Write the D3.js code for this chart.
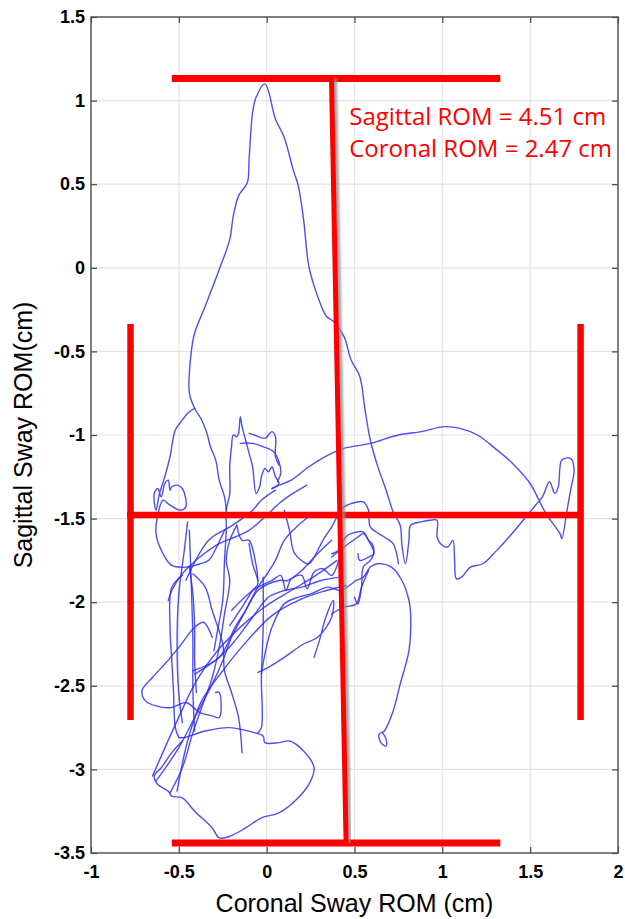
<!DOCTYPE html>
<html>
<head>
<meta charset="utf-8">
<script src="https://cdn.jsdelivr.net/npm/d3@7"></script>
<style>
  body { margin: 0; background: #fff; }
  svg { display: block; }
</style>
</head>
<body>
<svg id="chart" width="625" height="919"></svg>
<script>
// Axes
const xTicks = [-1, -0.5, 0, 0.5, 1, 1.5, 2];
const yTicks = [1.5, 1, 0.5, 0, -0.5, -1, -1.5, -2, -2.5, -3, -3.5];
const xLabel = "Coronal Sway ROM (cm)";
const yLabel = "Sagittal Sway ROM(cm)";
const romText = ["Sagittal ROM = 4.51 cm", "Coronal ROM = 2.47 cm"];

// Centre of pressure trace in cm (segments of one path)
const peakLoop = [[-0.23,-1.45],[-0.24,-1.37],[-0.27,-1.27],[-0.29,-1.15],[-0.32,-1.07],[-0.34,-0.99],[-0.37,-0.91],[-0.41,-0.84],[-0.44,-0.75],[-0.43,-0.51],[-0.41,-0.39],[-0.35,-0.23],[-0.27,-0.01],[-0.21,0.17],[-0.19,0.31],[-0.16,0.43],[-0.11,0.51],[-0.10,0.65],[-0.08,0.93],[-0.06,1.02],[-0.01,1.10],[0.05,0.89],[0.10,0.78],[0.15,0.59],[0.18,0.49],[0.21,0.29],[0.24,0.01],[0.29,-0.17],[0.34,-0.29],[0.38,-0.32],[0.44,-0.41],[0.48,-0.55],[0.53,-0.65],[0.56,-0.85],[0.59,-1.03],[0.63,-1.18],[0.68,-1.33],[0.72,-1.46],[0.76,-1.54],[0.77,-1.66],[0.79,-1.77],[0.81,-1.63],[0.82,-1.54],[0.88,-1.52],[0.93,-1.51],[0.97,-1.51],[0.97,-1.61],[0.99,-1.65],[1.03,-1.67],[1.06,-1.63],[1.07,-1.75],[1.08,-1.86],[1.11,-1.85],[1.16,-1.79],[1.23,-1.77],[1.31,-1.69],[1.38,-1.61],[1.46,-1.51],[1.53,-1.42],[1.57,-1.37],[1.61,-1.28],[1.64,-1.35],[1.66,-1.31],[1.67,-1.19],[1.68,-1.15],[1.73,-1.14],[1.75,-1.21],[1.73,-1.33],[1.71,-1.45],[1.68,-1.62],[1.67,-1.59],[1.63,-1.53],[1.59,-1.47],[1.55,-1.39],[1.50,-1.29],[1.40,-1.17],[1.30,-1.08],[1.20,-1.00],[1.10,-0.96],[1.01,-0.95],[0.88,-0.98],[0.75,-1.00],[0.59,-1.05],[0.44,-1.08],[0.35,-1.12],[0.24,-1.19],[0.14,-1.27],[0.07,-1.30],[0.03,-1.32]];
const upperTangle = [[0.03,-1.32],[0.07,-1.29],[0.05,-1.25],[0.03,-1.19],[0.01,-1.22],[-0.01,-1.20],[-0.03,-1.25],[-0.04,-1.31],[-0.06,-1.35],[-0.08,-1.19],[-0.10,-1.11],[-0.12,-1.03],[-0.14,-0.95],[-0.15,-0.89],[-0.16,-0.99],[-0.17,-1.01],[-0.19,-1.00],[-0.20,-1.07],[-0.21,-1.19],[-0.21,-1.35],[-0.23,-1.45],[-0.23,-1.57],[-0.24,-1.75],[-0.25,-1.99],[-0.28,-2.17],[-0.30,-2.29]];
const upperArc = [[-0.15,-1.05],[-0.08,-1.05],[-0.02,-1.07],[0.04,-1.10],[0.07,-1.16],[0.08,-1.23],[0.06,-1.28]];
const smallPeak = [[-0.10,-0.99],[-0.07,-1.00],[-0.01,-1.02],[0.03,-0.98],[0.05,-1.01],[0.05,-1.13],[0.07,-1.18]];
const leftWiggles = [[-0.41,-0.84],[-0.45,-0.87],[-0.48,-0.91],[-0.52,-0.97],[-0.55,-1.13],[-0.58,-1.25],[-0.61,-1.35],[-0.63,-1.45],[-0.64,-1.35],[-0.62,-1.32],[-0.60,-1.37],[-0.58,-1.29],[-0.56,-1.27],[-0.55,-1.33],[-0.54,-1.31],[-0.51,-1.30],[-0.48,-1.32],[-0.46,-1.43],[-0.49,-1.45],[-0.55,-1.42],[-0.59,-1.39],[-0.62,-1.48],[-0.63,-1.59],[-0.59,-1.71],[-0.54,-1.78],[-0.46,-1.79],[-0.38,-1.77],[-0.33,-1.75],[-0.28,-1.66],[-0.24,-1.57]];
const strandA = [[-0.63,-3.07],[-0.50,-2.87],[-0.41,-2.69],[-0.31,-2.49],[-0.25,-2.35],[-0.20,-2.21],[-0.12,-2.05],[-0.05,-1.91],[-0.01,-1.85],[0.05,-1.75],[0.10,-1.63],[0.18,-1.54],[0.25,-1.48]];
const strandB = [[-0.55,-3.14],[-0.48,-2.99],[-0.42,-2.78],[-0.37,-2.63],[-0.31,-2.45],[-0.27,-2.27],[-0.24,-2.07],[-0.21,-1.87],[-0.23,-1.75],[-0.21,-1.63],[-0.17,-1.54]];
const strandC = [[-0.48,-1.84],[-0.54,-1.91],[-0.55,-2.15],[-0.54,-2.35],[-0.53,-2.54],[-0.52,-2.75],[-0.50,-2.81]];
const strandD = [[-0.42,-2.41],[-0.27,-2.33],[-0.18,-2.15],[-0.12,-2.05],[-0.05,-1.93],[0.07,-1.87],[0.12,-1.87],[0.20,-1.81],[0.28,-1.72],[0.37,-1.63]];
const strandE = [[-0.03,-2.43],[-0.01,-2.31],[0.03,-2.15],[0.10,-2.01],[0.18,-1.97],[0.25,-1.95],[0.35,-1.91],[0.42,-1.93],[0.51,-1.87],[0.55,-1.85],[0.59,-1.79],[0.63,-1.77],[0.71,-1.79],[0.77,-1.87],[0.81,-1.99],[0.82,-2.09],[0.81,-2.29],[0.76,-2.49],[0.72,-2.65],[0.67,-2.77],[0.64,-2.79],[0.65,-2.84],[0.68,-2.86],[0.68,-2.82],[0.66,-2.78]];
const strandF = [[-0.05,-2.42],[0.01,-2.39],[0.10,-2.33],[0.21,-2.25],[0.29,-2.21],[0.37,-2.09],[0.38,-1.99],[0.34,-2.08],[0.30,-2.23],[0.27,-2.33]];
const strandG = [[-0.02,-1.85],[-0.02,-2.15],[-0.03,-2.45],[-0.03,-2.75],[-0.05,-2.78]];
const strandH = [[-0.14,-2.90],[-0.16,-2.69],[-0.20,-2.54],[-0.24,-2.41],[-0.25,-2.25],[-0.31,-2.05],[-0.35,-1.91],[-0.42,-1.83]];
const strandI = [[-0.44,-1.79],[-0.42,-1.95],[-0.41,-2.15],[-0.41,-2.35],[-0.40,-2.54]];
const strandJ = [[-0.56,-1.99],[-0.54,-1.93],[-0.48,-1.83],[-0.38,-1.73],[-0.27,-1.65],[-0.18,-1.61],[-0.10,-1.57],[-0.01,-1.49],[0.07,-1.41],[0.12,-1.37],[0.18,-1.33],[0.23,-1.30]];
const strandK = [[-0.46,-1.87],[-0.33,-1.63],[-0.21,-1.55],[-0.14,-1.50],[-0.08,-1.45],[-0.03,-1.39],[0.05,-1.33]];
const strandL = [[-0.65,-3.04],[-0.51,-2.71],[-0.40,-2.47],[-0.28,-2.29],[-0.14,-2.14],[0.00,-2.02],[0.14,-1.93],[0.28,-1.84],[0.40,-1.75]];
const strandM = [[-0.51,-3.13],[-0.45,-2.83],[-0.37,-2.59],[-0.25,-2.41],[-0.11,-2.23],[0.03,-2.08],[0.20,-1.98],[0.34,-1.93],[0.45,-1.90]];
const strandN = [[-0.20,-2.05],[-0.08,-1.93],[0.03,-1.87],[0.08,-1.84],[0.11,-1.93],[0.14,-1.86],[0.20,-1.84],[0.23,-1.92],[0.27,-1.82],[0.32,-1.80],[0.37,-1.84],[0.41,-1.75]];
const strandO = [[-0.17,-1.54],[-0.14,-1.63],[-0.10,-1.63],[-0.06,-1.78],[-0.05,-1.87]];
const strandP = [[-0.45,-1.52],[-0.47,-1.70],[-0.50,-1.95],[-0.51,-2.25],[-0.50,-2.55],[-0.48,-2.72]];
const strandQ = [[-0.41,-2.43],[-0.27,-2.33],[-0.18,-2.23],[-0.08,-2.09],[0.01,-1.97],[0.10,-1.93],[0.20,-1.91],[0.31,-1.87],[0.42,-1.85]];
const strandR = [[-0.44,-1.57],[-0.43,-1.87],[-0.42,-2.23],[-0.42,-2.53],[-0.41,-2.77]];
const strandS = [[-0.10,-1.65],[-0.08,-1.77],[-0.05,-1.89],[-0.08,-1.93],[-0.14,-2.03],[-0.21,-2.14]];
const leftTriangle = [[-0.31,-2.21],[-0.36,-2.12],[-0.41,-2.15],[-0.50,-2.27],[-0.58,-2.37],[-0.65,-2.45],[-0.71,-2.53],[-0.69,-2.59],[-0.63,-2.62],[-0.54,-2.63],[-0.46,-2.60],[-0.38,-2.66],[-0.31,-2.68],[-0.27,-2.69],[-0.27,-2.54],[-0.29,-2.54]];
const bottomLoop = [[-0.50,-2.81],[-0.47,-2.81],[-0.35,-2.77],[-0.21,-2.75],[-0.07,-2.78],[-0.02,-2.80],[-0.01,-2.84],[0.07,-2.84],[0.13,-2.83],[0.21,-2.89],[0.27,-2.99],[0.25,-3.07],[0.18,-3.17],[0.07,-3.26],[-0.03,-3.29],[-0.12,-3.35],[-0.21,-3.40],[-0.27,-3.41],[-0.31,-3.35],[-0.41,-3.25],[-0.48,-3.17],[-0.54,-3.16],[-0.56,-3.13],[-0.62,-3.09],[-0.64,-3.04],[-0.60,-2.99],[-0.54,-2.90],[-0.48,-2.83]];
const midRight = [[0.37,-1.73],[0.44,-1.67],[0.52,-1.61],[0.55,-1.59],[0.59,-1.65],[0.61,-1.71],[0.58,-1.73],[0.53,-1.75],[0.52,-1.71]];
const midRightLow = [[0.37,-2.07],[0.44,-2.03],[0.51,-2.01],[0.54,-1.91],[0.58,-1.81]];
const midRightWiggle = [[0.37,-1.71],[0.41,-1.69],[0.45,-1.61],[0.48,-1.59],[0.55,-1.58],[0.58,-1.63],[0.60,-1.65],[0.61,-1.71],[0.59,-1.75],[0.55,-1.79],[0.54,-1.91],[0.52,-2.01],[0.50,-1.97]];
const barStrand = [[0.10,-1.45],[0.13,-1.57],[0.16,-1.71],[0.24,-1.77],[0.27,-1.73],[0.32,-1.63],[0.37,-1.55],[0.41,-1.47],[0.44,-1.43],[0.48,-1.41],[0.55,-1.40],[0.58,-1.45],[0.59,-1.55],[0.67,-1.61],[0.72,-1.65],[0.75,-1.77]];

const traceSegments = [peakLoop, upperTangle, upperArc, smallPeak, leftWiggles,
  strandA, strandB, strandC, strandD, strandE, strandF, strandG, strandH, strandI,
  strandJ, strandK, strandL, strandM, strandN, strandO, strandP, strandQ, strandR, strandS,
  leftTriangle, bottomLoop, midRight, midRightLow, midRightWiggle, barStrand];

// Red ROM markers drawn over the plot (cm)
const sagittalBars = [[-0.54, 1.132, 1.33, 1.132], [-0.54, -3.44, 1.33, -3.44]];
const sagittalSpan = [0.369, 1.132, 0.452, -3.44];
const coronalBars = [[-0.775, -0.336, -0.775, -2.705], [1.787, -0.336, 1.787, -2.705]];
const coronalSpan = [-0.795, -1.478, 1.801, -1.478];
const textAnchor = [0.47, 0.855, 0.665];

const W = 625, H = 919;
const margin = { top: 17, right: 7, bottom: 66, left: 91 };
const iw = W - margin.left - margin.right;
const ih = H - margin.top - margin.bottom;

const svg = d3.select("#chart");
svg.append("rect").attr("width", W).attr("height", H).attr("fill", "#fff");

const x = d3.scaleLinear().domain([-1, 2]).range([0, iw]);
const y = d3.scaleLinear().domain([-3.5, 1.5]).range([ih, 0]);

const g = svg.append("g").attr("transform", `translate(${margin.left},${margin.top})`);

// grid
g.append("g").selectAll("line").data(xTicks.slice(1, -1)).join("line")
  .attr("x1", d => x(d)).attr("x2", d => x(d))
  .attr("y1", 0).attr("y2", ih)
  .attr("stroke", "#e3e3e3").attr("stroke-width", 1.2);
g.append("g").selectAll("line").data(yTicks.slice(1, -1)).join("line")
  .attr("y1", d => y(d)).attr("y2", d => y(d))
  .attr("x1", 0).attr("x2", iw)
  .attr("stroke", "#e3e3e3").attr("stroke-width", 1.2);

// trace
g.append("clipPath").attr("id", "plotclip")
  .append("rect").attr("width", iw).attr("height", ih);

const line = d3.line()
  .x(d => x(d[0]))
  .y(d => y(d[1]))
  .curve(d3.curveCatmullRom.alpha(0.5));

g.append("g").attr("clip-path", "url(#plotclip)")
  .selectAll("path").data(traceSegments).join("path")
  .attr("d", line)
  .attr("fill", "none")
  .attr("stroke", "#3030ee")
  .attr("stroke-opacity", 0.85)
  .attr("stroke-width", 1.4)
  .attr("stroke-linejoin", "round")
  .attr("stroke-linecap", "round");

// axes, MATLAB style: box with inward ticks on all sides
function styleAxis(sel) {
  sel.select(".domain").remove();
  sel.selectAll(".tick line").attr("stroke", "#444").attr("stroke-width", 1.2);
  sel.selectAll(".tick text")
    .attr("fill", "#000")
    .style("font-family", "'Liberation Sans', Arial, sans-serif")
    .style("font-size", "18px")
    .style("font-weight", "bold");
}
const fmt = d => String(d);

g.append("g").attr("transform", `translate(0,${ih})`)
  .call(d3.axisBottom(x).tickValues(xTicks).tickFormat(fmt).tickSize(-6).tickPadding(12))
  .call(styleAxis);
g.append("g")
  .call(d3.axisTop(x).tickValues(xTicks).tickFormat("").tickSize(-6))
  .call(styleAxis);
g.append("g")
  .call(d3.axisLeft(y).tickValues(yTicks).tickFormat(fmt).tickSize(-6).tickPadding(6))
  .call(styleAxis);
g.append("g").attr("transform", `translate(${iw},0)`)
  .call(d3.axisRight(y).tickValues(yTicks).tickFormat("").tickSize(-6))
  .call(styleAxis);

g.append("rect")
  .attr("width", iw).attr("height", ih)
  .attr("fill", "none").attr("stroke", "#555").attr("stroke-width", 1.5);

// labels
svg.append("text")
  .attr("x", margin.left + iw / 2).attr("y", 912)
  .attr("text-anchor", "middle")
  .style("font-family", "'Liberation Sans', Arial, sans-serif")
  .style("font-size", "25px")
  .text(xLabel);
svg.append("text")
  .attr("transform", `translate(32,${margin.top + ih / 2}) rotate(-90)`)
  .attr("text-anchor", "middle")
  .style("font-family", "'Liberation Sans', Arial, sans-serif")
  .style("font-size", "25px")
  .text(yLabel);

// red ROM markers with a soft grey drop shadow
const defs = svg.append("defs");
defs.append("filter").attr("id", "soft")
  .append("feGaussianBlur").attr("stdDeviation", 0.8);

const marks = g.append("g");
function redSegment(s, width, dx, dy) {
  marks.append("line")
    .attr("x1", x(s[0]) + dx).attr("y1", y(s[1]) + dy)
    .attr("x2", x(s[2]) + dx).attr("y2", y(s[3]) + dy)
    .attr("stroke", "#8f8f8f").attr("stroke-opacity", 0.8)
    .attr("stroke-width", width).attr("filter", "url(#soft)");
  marks.append("line")
    .attr("x1", x(s[0])).attr("y1", y(s[1]))
    .attr("x2", x(s[2])).attr("y2", y(s[3]))
    .attr("stroke", "#ff0000").attr("stroke-width", width);
}
sagittalBars.forEach(s => redSegment(s, 7, 1, 3));
coronalBars.forEach(s => redSegment(s, 6.5, 1, 3));
redSegment(coronalSpan, 6.5, 0, 3);
redSegment(sagittalSpan, 5, 3, 0);

marks.selectAll("text.rom").data(romText).join("text")
  .attr("class", "rom")
  .attr("x", x(textAnchor[0]))
  .attr("y", (d, i) => y(textAnchor[1 + i]))
  .attr("fill", "#ff0000")
  .style("font-family", "'Open Sans', 'Noto Sans', sans-serif")
  .style("font-size", "24px")
  .text(d => d);
</script>
</body>
</html>
